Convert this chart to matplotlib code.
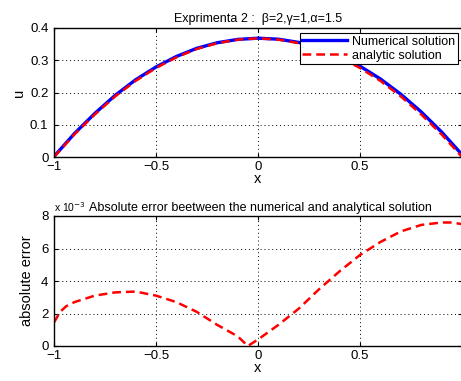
import matplotlib.pyplot as plt
import numpy as np

plt.rcParams['font.family'] = ['Liberation Sans', 'DejaVu Sans']

# u(x): numerical vs analytic
x_u = [-1.0, -0.9, -0.8, -0.7, -0.6, -0.5, -0.4, -0.3, -0.2, -0.1, 0.0,
       0.1, 0.2, 0.3, 0.4, 0.5, 0.6, 0.7, 0.8, 0.9, 1.0]
u_analytic = [0.0, 0.070, 0.132, 0.188, 0.236, 0.276, 0.309, 0.335, 0.353, 0.364, 0.368,
              0.364, 0.353, 0.335, 0.309, 0.276, 0.236, 0.188, 0.132, 0.070, 0.0]
u_numerical = [0.0015, 0.0726, 0.1351, 0.1913, 0.2394, 0.2791, 0.3117, 0.3371, 0.3543, 0.3646, 0.3684,
               0.3653, 0.3553, 0.3385, 0.3138, 0.2816, 0.2420, 0.1947, 0.1399, 0.0776, 0.0075]

# absolute error, in units of 1e-3
x_err = [-1.0, -0.97, -0.94, -0.9, -0.8, -0.7, -0.6, -0.5, -0.4, -0.3, -0.2, -0.1, -0.05,
         0.0, 0.1, 0.2, 0.3, 0.4, 0.5, 0.6, 0.7, 0.8, 0.9, 0.95, 1.0]
err_e3 = [1.45, 2.1, 2.45, 2.7, 3.1, 3.3, 3.35, 3.1, 2.7, 2.1, 1.3, 0.6, 0.0,
          0.4, 1.3, 2.3, 3.5, 4.6, 5.6, 6.4, 7.05, 7.45, 7.6, 7.6, 7.5]

W, H = 461, 381
fig = plt.figure(figsize=(W / 100, H / 100), dpi=100)

def style(ax, ylim, yticks):
    ax.set_xlim(-1, 1)
    ax.set_ylim(*ylim)
    ax.set_xticks([-1, -0.5, 0, 0.5])
    ax.set_xticklabels(['\u22121', '\u22120.5', '0', '0.5'])
    ax.set_yticks(yticks)
    ax.grid(True, linestyle=(0, (1, 3)), color='black', linewidth=0.7)
    ax.tick_params(direction='in', top=True, right=True, labelsize=9.5, length=3)
    ax.tick_params(axis='x', pad=3)
    ax.tick_params(axis='y', pad=4)
    for s in ax.spines.values():
        s.set_linewidth(1.0)

# top panel
ax1 = fig.add_axes([54 / W, (H - 157) / H, 408 / W, 129 / H])
ax1.plot(x_u, u_numerical, color='blue', linewidth=2.4, label='Numerical solution')
ax1.plot(x_u, u_analytic, color='red', linestyle='--', linewidth=1.8, dashes=(3.5, 2),
         label='analytic solution')
style(ax1, (0, 0.4), [0, 0.1, 0.2, 0.3, 0.4])
ax1.set_yticklabels(['0', '0.1', '0.2', '0.3', '0.4'])
ax1.set_xlabel('x', fontsize=10.5, labelpad=-1)
ax1.set_ylabel('u', fontsize=10.5, labelpad=3)
ax1.set_title('Exprimenta 2 :  \u03b2=2,\u03b3=1,\u03b1=1.5', fontsize=9, pad=4)
leg = ax1.legend(loc='upper right', bbox_to_anchor=(0.99, 0.96), fontsize=9,
                 fancybox=False, framealpha=1, edgecolor='black', borderpad=0.2,
                 handlelength=3.6, handletextpad=0.4, labelspacing=0.15, borderaxespad=0)
leg.get_frame().set_linewidth(0.8)

# bottom panel
ax2 = fig.add_axes([54 / W, (H - 346) / H, 408 / W, 130 / H])
ax2.plot(x_err, err_e3, color='red', linestyle='--', linewidth=1.8, dashes=(3.5, 2))
style(ax2, (0, 8), [0, 2, 4, 6, 8])
ax2.set_xlabel('x', fontsize=10.5, labelpad=-1)
ax2.set_ylabel('absolute error', fontsize=10.5, labelpad=5)
ax2.text(0.0, 1.015, 'x 10$^{-3}$', transform=ax2.transAxes, fontsize=7.5,
         ha='left', va='bottom')
ax2.text(0.087, 1.015, 'Absolute error beetween the numerical and analytical solution',
         transform=ax2.transAxes, fontsize=9, ha='left', va='bottom')

fig.savefig('out.png', dpi=100)
